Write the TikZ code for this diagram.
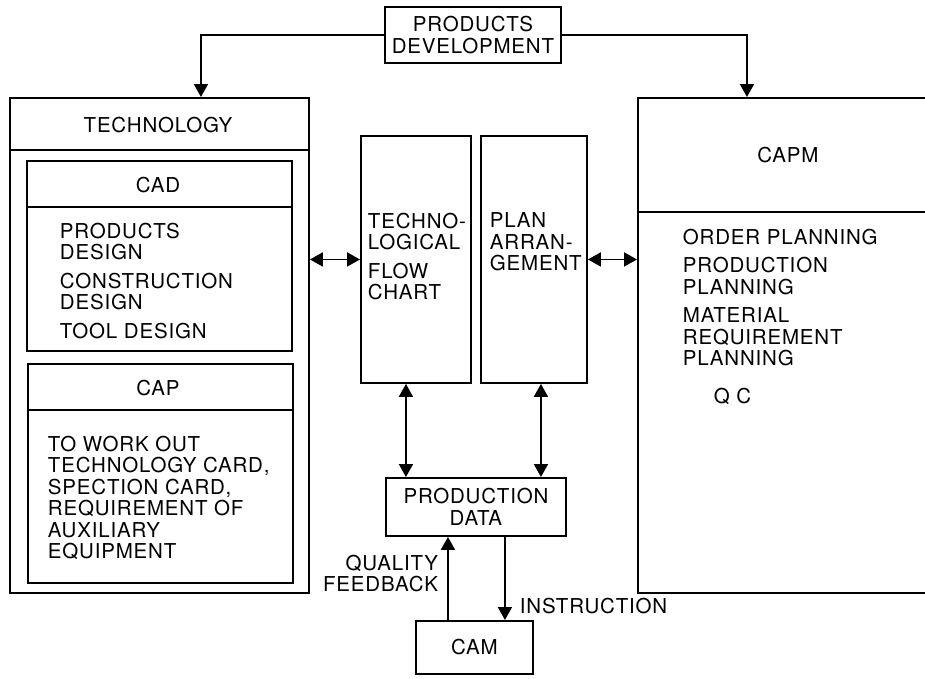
\documentclass[tikz,border=0pt]{standalone}
\usepackage{fontspec}
\setmainfont{TeX Gyre Heros}[LetterSpace=4]
\usetikzlibrary{arrows.meta,positioning}

\begin{document}
\begin{tikzpicture}[x=1pt, y=-1pt, line width=1.9pt,
    every node/.style={font=\fontsize{20.5}{21.5}\selectfont},
    box/.style={draw, rectangle, anchor=north west, inner sep=0pt, align=center},
    txt/.style={anchor=north west, inner sep=0pt, align=left},
    lbl/.style={inner sep=0pt, align=right},
    arr/.style={-{Triangle[length=13pt, width=14pt]}},
    darr/.style={{Triangle[length=13pt, width=14pt]}-{Triangle[length=13pt, width=14pt]}}]

    \useasboundingbox (0,0) rectangle (925,678);
    \clip (0,0) rectangle (925,678);

    % Products development
    \node[box, minimum width=176pt, minimum height=56pt] (dev) at (384,6) {PRODUCTS\\DEVELOPMENT};

    % Technology
    \node[box, minimum width=299pt, minimum height=495pt] (tech) at (9,97) {};
    \draw ([yshift=-53pt]tech.north west) -- ([yshift=-53pt]tech.north east);
    \node (techlbl) at (158,125) {TECHNOLOGY};

    % CAD
    \node[box, minimum width=265pt, minimum height=190pt] (cad) at (26,160) {};
    \draw ([yshift=-47pt]cad.north west) -- ([yshift=-47pt]cad.north east);
    \node (cadlbl) at (158,185) {CAD};
    \node[txt] (cadtxt) at (59,222) {PRODUCTS\\DESIGN\\[7pt]CONSTRUCTION\\DESIGN\\[7pt]TOOL DESIGN};

    % CAP
    \node[box, minimum width=265pt, minimum height=219pt] (cap) at (27,363) {};
    \draw ([yshift=-47pt]cap.north west) -- ([yshift=-47pt]cap.north east);
    \node (caplbl) at (158,388) {CAP};
    \node[txt] (captxt) at (47,435) {TO WORK OUT\\TECHNOLOGY CARD,\\SPECTION CARD,\\REQUIREMENT OF\\AUXILIARY\\EQUIPMENT};

    % Technological flow chart
    \node[box, minimum width=110pt, minimum height=247pt] (flow) at (360,135) {};
    \node[txt] (flowtxt) at (367,212) {TECHNO-\\LOGICAL\\[7pt]FLOW\\CHART};

    % Plan arrangement
    \node[box, minimum width=106pt, minimum height=247pt] (plan) at (480,135) {};
    \node[txt] (plantxt) at (489,212) {PLAN\\ARRAN-\\GEMENT};

    % CAPM
    \node[box, minimum width=300pt, minimum height=495pt] (capm) at (637,97) {};
    \draw ([yshift=-115pt]capm.north west) -- ([yshift=-115pt]capm.north east);
    \node (capmlbl) at (788,155) {CAPM};
    \node[txt] (capmtxt) at (682,228) {ORDER PLANNING\\[7pt]PRODUCTION\\PLANNING\\[7pt]MATERIAL\\REQUIREMENT\\PLANNING};
    \node[txt] (qc) at (713,387) {Q C};

    % Production data and CAM
    \node[box, minimum width=180pt, minimum height=58pt] (data) at (385,477) {PRODUCTION\\DATA};
    \node[box, minimum width=117pt, minimum height=53pt] (cam) at (415,620) {CAM};

    % connector ends
    \coordinate (flowout) at ([xshift=-10pt]flow.south);
    \coordinate (planout) at ([xshift=7pt]plan.south);
    \coordinate (camout) at ([xshift=-26.5pt]cam.north);
    \coordinate (dataout) at ([xshift=29pt]data.south);

    % connectors
    \draw[arr] (dev.west) -| ([xshift=41.5pt]tech.north);
    \draw[arr] (dev.east) -| ([xshift=-41pt]capm.north);
    \draw[darr] (tech.east |- flow.west) -- (flow.west);
    \draw[darr] (plan.east) -- (capm.west |- plan.east);
    \draw[darr] (flowout) -- (flowout |- data.north);
    \draw[darr] (planout) -- (planout |- data.north);
    \draw[arr] (camout) -- (camout |- data.south)
        node[lbl, pos=0.56, left=9pt] (qf) {QUALITY\\FEEDBACK};
    \draw[arr] (dataout) -- (dataout |- cam.north)
        node[lbl, pos=0.835, right=14pt, align=left] (instr) {INSTRUCTION};
\end{tikzpicture}
\end{document}
